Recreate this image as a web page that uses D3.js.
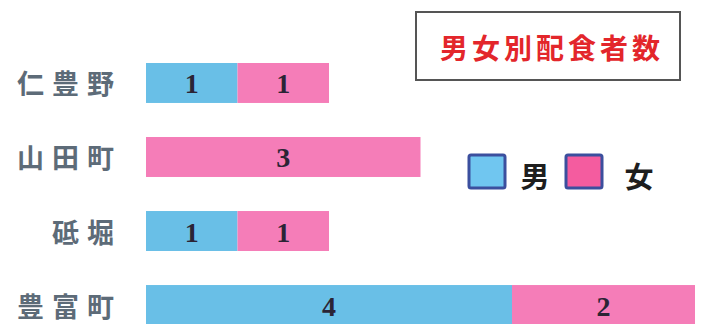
<!DOCTYPE html>
<html><head><meta charset="utf-8">
<script src="https://cdn.jsdelivr.net/npm/d3@7"></script>
<style>html,body{margin:0;padding:0;background:#fff;}</style>
</head><body>
<svg id="c" width="701" height="324"></svg>
<script>
const categories = ["仁豊野", "山田町", "砥堀", "豊富町"];
const maleValues = [1, 0, 1, 4];
const femaleValues = [1, 3, 1, 2];
const seriesNames = ["男", "女"];
const seriesColors = ["#69bfe7", "#f57db8"];
const legendFills = ["#70c6f0", "#f45c9f"];
const legendBorders = ["#3b4f9e", "#3b4f9e"];
const title = "男女別配食者数";

const svg = d3.select("#c");
const x = d3.scaleLinear().domain([0, 6]).range([146, 695]);
const y = d3.scaleBand().domain(categories).range([63, 325]).paddingInner(0.46).paddingOuter(0);

const rows = categories.map((c, i) => ({ cat: c, vals: [maleValues[i], femaleValues[i]] }));
const segs = [];
rows.forEach(r => {
  let acc = 0;
  r.vals.forEach((v, k) => {
    if (v > 0) segs.push({ cat: r.cat, s: k, x0: acc, x1: acc + v, v });
    acc += v;
  });
});

svg.selectAll("rect.bar").data(segs).join("rect")
  .attr("class", "bar")
  .attr("x", d => x(d.x0)).attr("width", d => x(d.x1) - x(d.x0))
  .attr("y", d => y(d.cat)).attr("height", y.bandwidth())
  .attr("fill", d => seriesColors[d.s]);

svg.selectAll("text.val").data(segs).join("text")
  .attr("class", "val")
  .attr("x", d => (x(d.x0) + x(d.x1)) / 2)
  .attr("y", d => y(d.cat) + y.bandwidth() / 2 + 1)
  .attr("text-anchor", "middle").attr("dominant-baseline", "central")
  .attr("font-family", "'Liberation Serif','DejaVu Serif',serif")
  .attr("font-weight", "bold").attr("font-size", 28)
  .attr("fill", "#2b2435")
  .text(d => d.v);

const ls = 8;
svg.selectAll("text.cat").data(categories).join("text")
  .attr("class", "cat")
  .attr("x", 114 + ls)
  .attr("y", d => y(d) + y.bandwidth() / 2)
  .attr("text-anchor", "end").attr("dominant-baseline", "central")
  .attr("font-family", "'Noto Sans CJK JP',sans-serif")
  .attr("font-weight", "bold").attr("font-size", 27)
  .attr("letter-spacing", ls)
  .attr("fill", "#5d6b78")
  .text(d => d);

// title box
svg.append("rect").attr("x", 416).attr("y", 12).attr("width", 264).attr("height", 68)
  .attr("fill", "#fff").attr("stroke", "#555").attr("stroke-width", 2);
svg.append("text").attr("x", 550 + 2).attr("y", 47)
  .attr("text-anchor", "middle").attr("dominant-baseline", "central")
  .attr("font-family", "'Noto Sans CJK JP',sans-serif")
  .attr("font-weight", "bold").attr("font-size", 28).attr("letter-spacing", 4)
  .attr("fill", "#e3262b").text(title);

// legend
const legX = [469, 566], legTX = [535, 639];
seriesNames.forEach((n, i) => {
  svg.append("rect").attr("x", legX[i]).attr("y", 155).attr("width", 36).attr("height", 33)
    .attr("fill", legendFills[i])
    .attr("stroke", legendBorders[i]).attr("stroke-width", 3).attr("rx", 2);
  svg.append("text").attr("x", legTX[i]).attr("y", 175)
    .attr("text-anchor", "middle").attr("dominant-baseline", "central")
    .attr("font-family", "'Noto Sans CJK JP',sans-serif")
    .attr("font-weight", "bold").attr("font-size", 29)
    .attr("fill", "#1e1e1e").text(n);
});
</script>
</body></html>
